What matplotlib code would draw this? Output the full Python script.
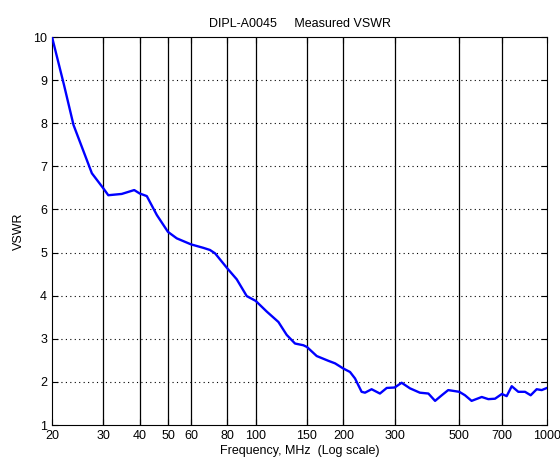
import matplotlib
matplotlib.use('Agg')
import matplotlib.pyplot as plt
import numpy as np

# measured VSWR
freq_mhz = [20, 22, 23.7, 27.4, 30, 31.2, 34.7, 38.3, 40, 42.3, 45.8, 50, 53.6, 60,
            66.1, 69.7, 72.6, 80, 86.1, 93.2, 100, 109.2, 119.7, 127.8, 136.5, 145.8,
            150, 162, 177.5, 187.3, 200, 210.8, 219.3, 231, 237.3, 250, 267, 281.8,
            300, 317, 338.7, 366, 391.6, 412.9, 435.3, 458, 500, 523, 551, 597, 629,
            663, 700, 727, 756.7, 797, 840.5, 879, 921.6, 959, 1000]
vswr = [10.0, 8.88, 7.96, 6.84, 6.49, 6.33, 6.36, 6.45, 6.37, 6.31, 5.87, 5.48, 5.33, 5.19,
        5.11, 5.06, 4.98, 4.63, 4.38, 3.99, 3.88, 3.63, 3.39, 3.09, 2.89, 2.85,
        2.81, 2.60, 2.49, 2.43, 2.31, 2.23, 2.08, 1.77, 1.75, 1.83, 1.73, 1.86,
        1.87, 1.98, 1.85, 1.75, 1.73, 1.56, 1.69, 1.81, 1.77, 1.69, 1.56, 1.65, 1.60,
        1.61, 1.72, 1.67, 1.90, 1.77, 1.77, 1.69, 1.83, 1.81, 1.86]

xticks = [20, 30, 40, 50, 60, 80, 100, 150, 200, 300, 500, 700, 1000]
yticks = [1, 2, 3, 4, 5, 6, 7, 8, 9, 10]

plt.rcParams['font.family'] = ['Liberation Sans', 'DejaVu Sans']
plt.rcParams['font.size'] = 8

fig = plt.figure(figsize=(5.6, 4.65), dpi=100)
ax = fig.add_axes([0.0929, 0.086, 0.8839, 0.8344])

ax.set_xscale('log')
ax.set_xlim(20, 1000)
ax.set_ylim(1, 10)

# solid vertical lines at each frequency tick, dotted horizontals
for f in xticks[1:-1]:
    ax.axvline(f, color='black', lw=0.9, zorder=1)
for v in yticks[1:-1]:
    ax.axhline(v, color='black', lw=0.8, ls=(0, (1, 3)), zorder=1)

ax.plot(freq_mhz, vswr, color='#0000ff', lw=1.7, zorder=3)

ax.set_xticks(xticks)
ax.set_xticklabels([str(t) for t in xticks])
ax.xaxis.set_minor_locator(matplotlib.ticker.NullLocator())
ax.set_yticks(yticks)
ax.tick_params(direction='in', top=True, right=True, length=4, width=0.8,
               labelsize=9)

for s in ax.spines.values():
    s.set_linewidth(0.8)

ax.set_title('DIPL-A0045     Measured VSWR', fontsize=9, pad=7)
ax.set_xlabel('Frequency, MHz  (Log scale)', fontsize=9, labelpad=2)
ax.set_ylabel('VSWR', fontsize=9, labelpad=6)

fig.savefig('out.png', dpi=100)
